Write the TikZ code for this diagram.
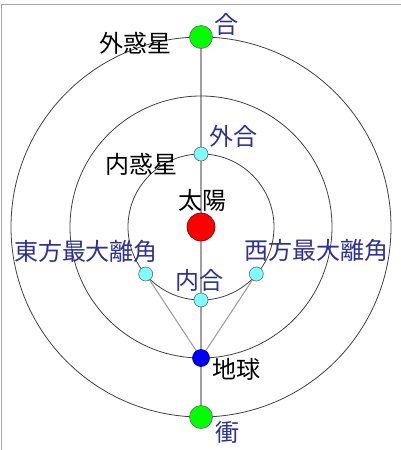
\documentclass[tikz,border=0pt]{standalone}
\usepackage{fontspec}
\setmainfont{Noto Sans CJK JP}
\usetikzlibrary{backgrounds}
\definecolor{lblue}{HTML}{2E3192}
\definecolor{pgreen}{HTML}{00FF00}
\definecolor{pcyan}{HTML}{80FFFF}
\begin{document}
\begin{tikzpicture}[x=1pt,y=-1pt,
		body/.style={circle, draw=gray!80!black, line width=0.6pt, inner sep=0pt, minimum size=#1},
		lbl/.style={font=\fontsize{24}{26}\selectfont, inner sep=0pt},
		blbl/.style={lbl, text=lblue}]
			\useasboundingbox (0,0) rectangle (401,450);
			\draw[gray!70, line width=1pt] (1.7,450) -- (1.7,4.7) -- (401,4.7);
			\node[body=28pt, fill=red, draw=red!40!black] (sun) at (201,227) {};
			\foreach \r in {73,131,190}{\draw[gray!50!black, line width=0.8pt] (sun.center) circle[radius=\r];}
			\node[body=23pt, fill=pgreen] (conj) at (201,37) {};
			\node[body=23pt, fill=pgreen] (opp) at (201,417) {};
			\node[body=17pt, fill=blue, draw=blue!50!black] (earth) at (201,358) {};
			\node[body=14pt, fill=pcyan] (supc) at (201,154) {};
			\node[body=14pt, fill=pcyan] (infc) at (201,300) {};
			\node[body=14pt, fill=pcyan] (eastel) at (145.7,274) {};
			\node[body=14pt, fill=pcyan] (westel) at (256.3,274) {};
			\begin{pgfonlayer}{background}
				\draw[gray!75, line width=1.1pt] (conj.center) -- (opp.center);
				\draw[gray!75, line width=1.1pt] (eastel.center) -- (earth.center) -- (westel.center);
			\end{pgfonlayer}
			% labels
			\node[blbl] (lconj) at (226.7,24) {合};
			\node[lbl] (lout) at (135,43.3) {外惑星};
			\node[blbl] (lsupc) at (233.3,136) {外合};
			\node[lbl] (lin) at (141.7,164.3) {内惑星};
			\node[lbl] (lsun) at (202.3,200.7) {太陽};
			\node[blbl] (least) at (86,251.7) {東方最大離角};
			\node[blbl] (lwest) at (316,250.7) {西方最大離角};
			\node[blbl] (linfc) at (199.3,280) {内合};
			\node[lbl] (learth) at (236,369.3) {地球};
			\node[blbl] (lopp) at (227.7,432.7) {衝};
		\end{tikzpicture}
\end{document}
